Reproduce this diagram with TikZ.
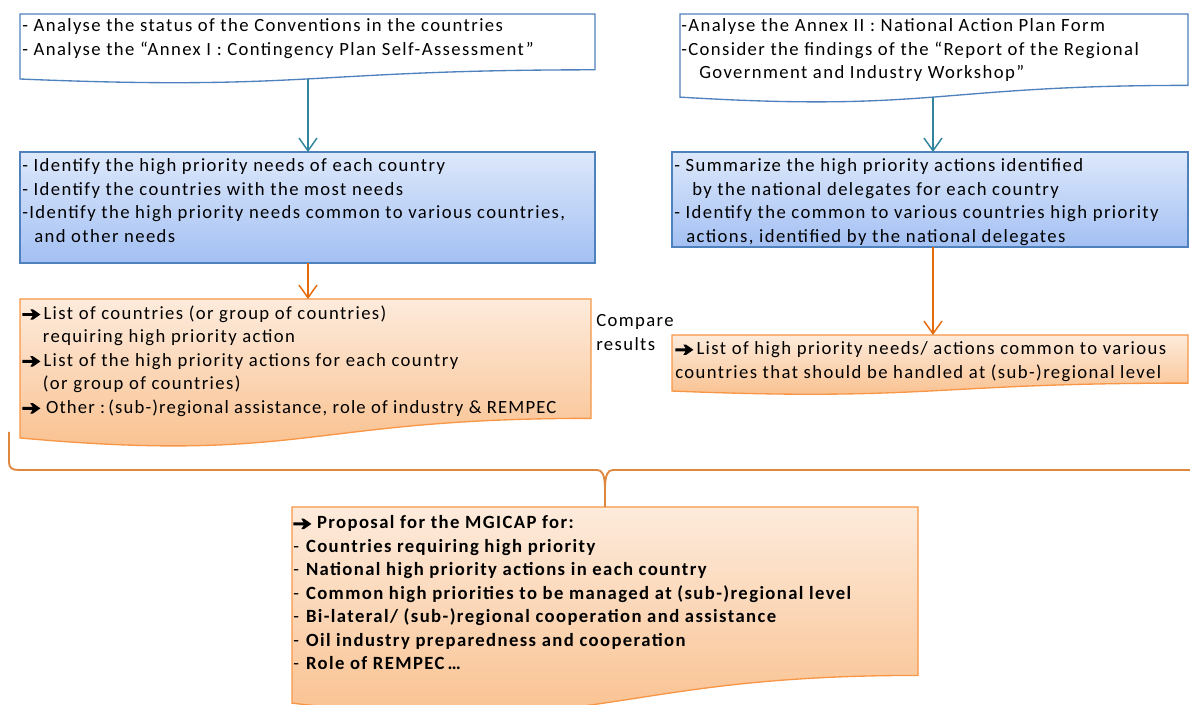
\documentclass[tikz,border=0pt]{standalone}
\usepackage{fontspec}
\setmainfont{Carlito}[LetterSpace=7.5]
\newfontfamily\tightfont{Carlito}[LetterSpace=6.2]
\usetikzlibrary{arrows.meta}
\definecolor{bluebd}{HTML}{4F81BD}
\definecolor{bluetop}{HTML}{DDE8FB}
\definecolor{bluebot}{HTML}{A3C0F3}
\definecolor{orabd}{HTML}{F79646}
\definecolor{oratop}{HTML}{FDEBDC}
\definecolor{orabot}{HTML}{F9BD88}
\definecolor{tealc}{HTML}{31859C}
\definecolor{oraarrc}{HTML}{E46C0A}
\newcommand\arw{\tikz[baseline=0pt,x=1pt,y=1pt]\fill[black] (0,2.6) -- (7.8,2.6) -- (6.0,-0.2) -- (8.0,-0.2) -- (13.6,3.7) -- (8.0,7.6) -- (6.0,7.6) -- (7.8,4.8) -- (0,4.8) -- cycle;}
% #1 style, #2 x, #3 y, #4 w, #5 h
\newcommand\docshape[5]{%
  \path[#1] (#2,#3) -- ++(#4,0) -- ++(0,{0.802*#5})
    .. controls ({#2+0.5*#4},{#3+0.802*#5}) and ({#2+0.5*#4},{#3+1.1075*#5}) ..
    (#2,{#3+0.934*#5}) -- cycle;}
\begin{document}
\begin{tikzpicture}[x=0.75pt,y=-0.75pt,
  txt/.style={anchor=north west, inner sep=0pt, align=left,
    font=\fontsize{14}{17.6}\selectfont},
  bluedoc/.style={draw=bluebd, line width=1pt, fill=white},
  bluebox/.style={draw=bluebd, line width=1pt, top color=bluetop, bottom color=bluebot},
  orabox/.style={draw=orabd, line width=1pt, top color=oratop, bottom color=orabot},
  tealarr/.style={draw=tealc, line width=1.1pt, -{Straight Barb[length=9.5pt,width=13.5pt]}},
  oraarr/.style={draw=oraarrc, line width=1.1pt, -{Straight Barb[length=9.5pt,width=13.5pt]}},
  braceline/.style={draw=orabd!90!black, line width=1.4pt}]
\useasboundingbox (0,0) rectangle (1190,705);

% ---------- shapes ----------
\docshape{bluedoc}{20}{14}{575}{69.6}
\docshape{bluedoc}{680}{14}{508}{89}
\path[bluebox] (20,152) rectangle (595,263);
\path[bluebox] (672,152) rectangle (1188,247);
\docshape{orabox}{20}{299}{571}{148.8}
\docshape{orabox}{672}{335}{516}{60}
\docshape{orabox}{292}{507}{626}{210}

% ---------- connection points ----------
\coordinate (Abot) at (308,79);
\coordinate (Btop) at (308,152);
\coordinate (Bbot) at (308,263);
\coordinate (Ctop) at (308,299);
\coordinate (Dbot) at (933,97);
\coordinate (Etop) at (933,152);
\coordinate (Ebot) at (933,247);
\coordinate (Ftop) at (933,335);
\coordinate (brL) at (9,432);
\coordinate (brR) at (1190,470);
\coordinate (brTip) at (605,490);
\coordinate (Gtop) at (605,507);

% ---------- texts ----------
\node[txt] (A) at (22,18.5) {- Analyse the status of the Conventions in the countries\\
- Analyse the “Annex I : Contingency Plan Self-Assessment”};
\node[txt] (D) at (681,18.5) {-Analyse the Annex II : National Action Plan Form\\
-Consider the findings of the “Report of the Regional\\
\hspace*{13.5pt}Government and Industry Workshop”};
\node[txt] (B) at (22,158.5) {- Identify the high priority needs of each country\\
- Identify the countries with the most needs\\
-Identify the high priority needs common to various countries,\\
\hspace*{9pt}and other needs};
\node[txt] (E) at (674,158.5) {- Summarize the high priority actions identified\\
\hspace*{13.5pt}by the national delegates for each country\\
- Identify the common to various countries high priority\\
\hspace*{9pt}actions, identified by the national delegates};
\node[txt] (C) at (22,305.5) {\arw\,List of countries (or group of countries)\\
\hspace*{15.5pt}requiring high priority action\\
\arw\,List of the high priority actions for each country\\
\hspace*{15.5pt}(or group of countries)\\
\arw\ {\tightfont Other :\,(sub-)regional assistance, role of industry \& REMPEC}};
\node[txt] (cmp) at (596,314.5) {Compare\\results};
\node[txt] (F) at (675,341.5) {\arw\,List of high priority needs/ actions common to various\\
countries that should be handled at (sub-)regional level};
\node[txt] (G) at (293,515.5) {\arw\ \textbf{Proposal for the MGICAP for:}\\
- \textbf{Countries requiring high priority}\\
- \textbf{National high priority actions in each country}\\
- \textbf{Common high priorities to be managed at (sub-)regional level}\\
- \textbf{Bi-lateral/ (sub-)regional cooperation and assistance}\\
- \textbf{Oil industry preparedness and cooperation}\\
- \textbf{Role of REMPEC\,…}};

% ---------- connectors ----------
\draw[tealarr] (Abot) -- (Btop);
\draw[tealarr] (Dbot) -- (Etop);
\draw[oraarr] (Bbot) -- (Ctop);
\draw[oraarr] (Ebot) -- (Ftop);
\draw[braceline] (brL) -- (9,462) .. controls (9,468) and (12,470) .. (19,470)
  -- (597,470) .. controls (602,470) and (605,474) .. (brTip)
  .. controls (605,474) and (608,470) .. (613,470) -- (brR);
\draw[braceline] (brTip) -- (Gtop);
\end{tikzpicture}
\end{document}
